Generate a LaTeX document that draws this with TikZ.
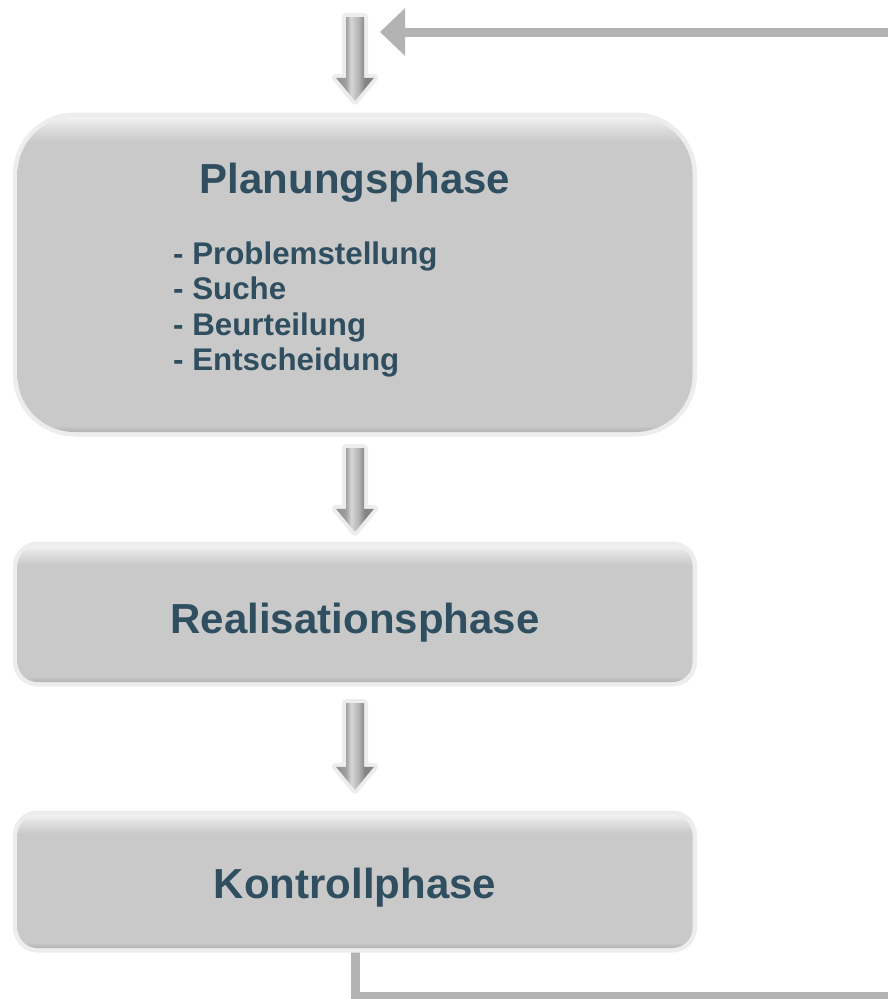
\documentclass[tikz,border=0pt]{standalone}
\usepackage{fontspec}
\setmainfont{Liberation Sans}
\usetikzlibrary{arrows.meta,calc,backgrounds}
\definecolor{tc}{HTML}{2F4E5F}
\definecolor{fbc}{HTML}{B3B3B3}
\definecolor{shB}{HTML}{B2B2B2}
\definecolor{shM}{HTML}{C9C9C9}
\definecolor{shL}{HTML}{E0E0E0}
\definecolor{shT}{HTML}{F2F2F2}
\definecolor{a1}{HTML}{8C8C8C}
\definecolor{a2}{HTML}{A0A0A0}
\definecolor{a3}{HTML}{D6D6D6}
\definecolor{a4}{HTML}{B2B2B2}
\definecolor{a5}{HTML}{848484}
\pgfdeclareverticalshading{plansh}{100bp}{color(0bp)=(shB); color(25bp)=(shB); color(26bp)=(shM); color(71bp)=(shM); color(73.5bp)=(shL); color(75bp)=(shT); color(100bp)=(shT)}
\pgfdeclareverticalshading{smallsh}{100bp}{color(0bp)=(shB); color(25bp)=(shB); color(27bp)=(shM); color(68bp)=(shM); color(72.5bp)=(shL); color(75bp)=(shT); color(100bp)=(shT)}
\pgfdeclarehorizontalshading{arrsh}{100bp}{color(0bp)=(a1); color(25bp)=(a1); color(38bp)=(a2); color(45bp)=(a3); color(55bp)=(a4); color(63bp)=(a5); color(75bp)=(a5); color(100bp)=(a5)}
\newcommand\barrow[2]{%
  \path[arrowbody] let \p1=(#1), \p2=(#2) in
    (\x1-9pt,\y1) -- (\x1+9pt,\y1) -- (\x1+9pt,\y2+23pt) -- (\x1+19pt,\y2+23pt)
    -- (\x1,\y2) -- (\x1-19pt,\y2+23pt) -- (\x1-9pt,\y2+23pt) -- cycle;}
\tikzset{
  arrowbody/.style={shade, shading=arrsh, preaction={draw=black!7, line width=8pt, line join=round}},
  phasebox/.style={shape=rectangle, inner sep=0pt, minimum width=675pt, shade,
    preaction={draw=black!7, line width=9pt}},
  bigbox/.style={phasebox, shading=plansh, rounded corners=57pt},
  smallbox/.style={phasebox, shading=smallsh, rounded corners=20pt},
  title/.style={anchor=base, text=tc, inner sep=0pt, font=\fontsize{42}{50}\selectfont\bfseries},
  item/.style={anchor=base west, text=tc, inner sep=0pt, font=\fontsize{31.3}{37}\selectfont\bfseries},
  fb/.style={draw=fbc, line width=9pt, -{Triangle[length=25pt,width=46pt]}}
}
\begin{document}
\begin{tikzpicture}[x=1pt, y=-1pt]
\useasboundingbox (0,0) rectangle (888,999);
\clip (0,0) rectangle (888,999);
\coordinate (start) at (355,17);
\coordinate (fbend) at (380,32);
\coordinate (br) at (905,996);
% boxes
\node[bigbox, minimum height=315pt] (plan) at (355,274.5) {};
\node[smallbox, minimum height=136pt] (real) at (355,614) {};
\node[smallbox, minimum height=133pt] (kon) at (355,881.5) {};
% feedback connector
\begin{scope}[on background layer]
\draw[fb] (kon.south) |- (br) |- (fbend);
\end{scope}
% texts
\node[title] (plantitle) at (355,193) {Planungsphase};
\node[item] (l1) at (173,264) {- Problemstellung};
\node[item] (l2) at (173,299.5) {- Suche};
\node[item] (l3) at (173,335) {- Beurteilung};
\node[item] (l4) at (173,370) {- Entscheidung};
\node[title] (realtitle) at (355,633) {Realisationsphase};
\node[title] (kontitle) at (355,898) {Kontrollphase};
% block arrows
\barrow{start}{[yshift=16pt]plan.north}
\barrow{[yshift=-16pt]plan.south}{[yshift=14pt]real.north}
\barrow{[yshift=-21pt]real.south}{[yshift=25pt]kon.north}
\end{tikzpicture}
\end{document}
